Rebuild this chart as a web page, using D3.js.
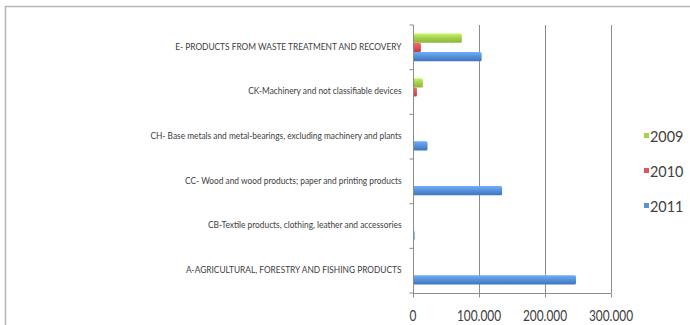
<!DOCTYPE html>
<html>
<head>
<meta charset="utf-8">
<script src="https://cdn.jsdelivr.net/npm/d3@7"></script>
<style>
  html, body { margin: 0; padding: 0; background: #fff; }
  svg { display: block; }
</style>
</head>
<body>
<svg id="chart" width="690" height="325"></svg>
<script>
// Product categories, listed top to bottom
const categories = [
  "E- PRODUCTS FROM WASTE TREATMENT AND RECOVERY",
  "CK-Machinery and not classifiable devices",
  "CH- Base metals and metal-bearings, excluding machinery and plants",
  "CC- Wood and wood products; paper and printing products",
  "CB-Textile products, clothing, leather and accessories",
  "A-AGRICULTURAL, FORESTRY AND FISHING PRODUCTS"
];
const years = ["2009", "2010", "2011"];
const values2009 = [74000, 15000, 0, 0, 0, 1500];
const values2010 = [12000, 6000, 1500, 0, 0, 1000];
const values2011 = [104000, 0, 22000, 135000, 2500, 247000];
const xTicks = [0, 100000, 200000, 300000];
const xTickLabels = ["0", "100.000", "200.000", "300.000"];

const seriesValues = [values2009, values2010, values2011];
const colors = ["#a6d152", "#e0555a", "#5a93dc"];
const darks = ["#8ab838", "#c23b40", "#3d74c0"];

const svg = d3.select("#chart");
const font = "Lato, 'Open Sans', sans-serif";

// Chart frame
svg.append("path")
  .attr("d", "M5.5,325 L5.5,6.5 L690,6.5")
  .attr("fill", "none").attr("stroke", "#b5b5b5").attr("stroke-width", 1.5);

const plot = { left: 413, right: 611, top: 25, bottom: 293 };

const x = d3.scaleLinear().domain([0, 300000]).range([plot.left, plot.right]);
const y = d3.scaleBand().domain(categories).range([plot.top, plot.bottom]).paddingInner(0.38).paddingOuter(0.19);
const ySub = d3.scaleBand().domain(years).range([0, y.bandwidth()]).padding(0.0);

// Gradients for the bar shading
const defs = svg.append("defs");
years.forEach((yr, i) => {
  const g = defs.append("linearGradient").attr("id", "g" + i)
    .attr("x1", 0).attr("y1", 0).attr("x2", 0).attr("y2", 1);
  g.append("stop").attr("offset", "0%").attr("stop-color", d3.color(colors[i]).brighter(0.5));
  g.append("stop").attr("offset", "45%").attr("stop-color", colors[i]);
  g.append("stop").attr("offset", "100%").attr("stop-color", darks[i]);
});

// Vertical gridlines
svg.append("g").selectAll("line").data(xTicks.slice(1)).join("line")
  .attr("x1", d => x(d) + 0.5).attr("x2", d => x(d) + 0.5)
  .attr("y1", plot.top).attr("y2", plot.bottom)
  .attr("stroke", "#8c8c8c").attr("stroke-width", 1);

// Bars
const groups = svg.append("g").selectAll("g").data(categories).join("g")
  .attr("transform", d => `translate(0,${y(d)})`);
groups.selectAll("rect")
  .data((c, ci) => years.map((yr, si) => ({ yr, si, v: seriesValues[si][ci] })))
  .join("rect")
  .attr("x", x(0))
  .attr("y", d => ySub(d.yr))
  .attr("width", d => x(d.v) - x(0))
  .attr("height", ySub.bandwidth())
  .attr("rx", 1.5)
  .attr("fill", d => `url(#g${d.si})`);

// Category axis
const yAxis = svg.append("g").attr("transform", `translate(${plot.left + 0.5},0)`);
yAxis.append("line").attr("y1", plot.top).attr("y2", plot.bottom)
  .attr("stroke", "#8c8c8c");
const step = (plot.bottom - plot.top) / categories.length;
yAxis.selectAll(".tk").data(d3.range(categories.length + 1)).join("line")
  .attr("x1", -4).attr("x2", 0)
  .attr("y1", i => plot.top + i * step).attr("y2", i => plot.top + i * step)
  .attr("stroke", "#8c8c8c");
// Labels are set in a narrowed face
yAxis.append("g").attr("transform", "translate(-12,0) scale(0.87,1)")
  .selectAll("text").data(categories).join("text")
  .attr("x", 0)
  .attr("y", d => y(d) + y.bandwidth() / 2 - 1.5)
  .attr("dominant-baseline", "central")
  .attr("text-anchor", "end")
  .attr("font-family", font)
  .attr("font-size", 9.6)
  .attr("fill", "#404040")
  .text(d => d);

// Value axis
const xAxis = svg.append("g").attr("transform", `translate(0,${plot.bottom + 0.5})`);
xAxis.append("line").attr("x1", plot.left).attr("x2", plot.right)
  .attr("stroke", "#8c8c8c");
xAxis.selectAll(".tk").data(xTicks).join("line")
  .attr("x1", d => x(d) + 0.5).attr("x2", d => x(d) + 0.5)
  .attr("y1", 0).attr("y2", 4)
  .attr("stroke", "#8c8c8c");
xAxis.selectAll("text").data(xTicks).join("text")
  .attr("transform", d => `translate(${x(d)},27) scale(0.82,1)`)
  .attr("text-anchor", "middle")
  .attr("font-family", font)
  .attr("font-size", 14.5)
  .attr("fill", "#404040")
  .text((d, i) => xTickLabels[i]);

// Legend
const legend = svg.append("g").attr("transform", "translate(644,0)");
const legendY = [136, 171, 206];
legend.selectAll("rect").data(years).join("rect")
  .attr("x", 0).attr("y", (d, i) => legendY[i] - 3)
  .attr("width", 5).attr("height", 5)
  .attr("fill", (d, i) => colors[i]);
legend.selectAll("text").data(years).join("text")
  .attr("transform", (d, i) => `translate(6,${legendY[i]}) scale(0.9,1)`)
  .attr("dominant-baseline", "central")
  .attr("font-family", font)
  .attr("font-size", 16)
  .attr("fill", "#404040")
  .text(d => d);
</script>
</body>
</html>
